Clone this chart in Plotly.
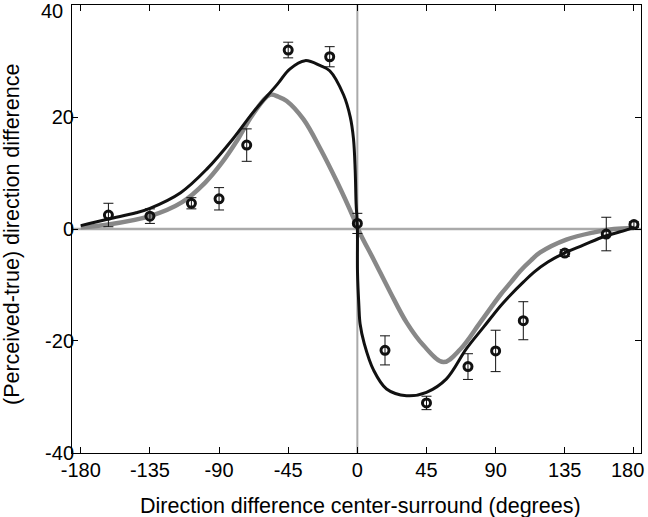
import plotly.graph_objects as go

# measured points (direction difference vs perceived-true difference)
pt_x = [-162, -135, -108, -90, -72, -45, -18, 0, 18, 45, 72, 90, 108, 135, 162, 180]
pt_y = [2.5, 2.3, 4.6, 5.4, 15.0, 32.0, 30.8, 1.0, -21.7, -31.1, -24.6, -21.8, -16.4, -4.3, -0.9, 0.8]
pt_err = [2.1, 1.3, 1.0, 2.0, 2.9, 1.4, 1.8, 1.8, 2.6, 1.2, 2.3, 3.7, 3.4, 0.6, 3.0, 0.5]

# black model curve
black_x = [-180, -162, -144, -135, -115, -98, -81, -68, -52, -44, -34, -24, -18, -9,
           -4.6, -2.5, -1.4, -0.8, 0, 0.1, 1.0, 1.8, 4.5, 10.5, 19, 32, 45, 58, 71,
           82, 93, 100, 108, 115, 124, 134, 147, 161, 171, 180]
black_y = [0.6, 1.8, 2.9, 3.7, 6.5, 10.7, 16.1, 20.8, 25.9, 28.6, 30.1, 29.2, 28.3, 24.0,
           20.0, 16.1, 10.5, 4.5, 0.5, -7.7, -13.7, -17.0, -20.5, -25.2, -28.6, -29.8, -29.2,
           -26.8, -21.4, -17.6, -13.8, -11.7, -9.5, -7.7, -5.9, -4.4, -2.9, -1.3, -0.5, 0.3]

# gray model curve
gray_x = [-180, -162, -135, -114, -99, -88, -79, -68, -57, -51, -46, -35, -24, -13, -2.5,
          1.8, 10.5, 21.4, 32, 43, 56, 67, 80, 93, 100, 106, 113, 119, 136, 154, 167, 180]
gray_y = [0.3, 0.8, 2.3, 4.8, 8.3, 11.9, 15.5, 20.5, 24.0, 23.6, 22.9, 19.6, 14.3, 8.3, 2.0,
          -0.8, -5.4, -11.3, -16.7, -20.8, -23.8, -21.5, -16.7, -11.8, -9.5, -7.5, -5.6,
          -4.2, -1.9, -0.6, 0.0, 0.2]

x_ticks = [-180, -135, -90, -45, 0, 45, 90, 135, 180]
x_labels = ["-180", "-135", "-90", "-45", "0", "45", "90", "135", ""]
last_x_label = "180"  # drawn separately so it stays inside the page
y_ticks = [-40, -20, 0, 20, 40]
y_labels = ["-40", "-20", "0", "20", ""]
top_y_label = "40"

fig = go.Figure()

fig.add_hline(y=0, line_color="#aaaaaa", line_width=2.5, layer="below")
fig.add_vline(x=0, line_color="#aaaaaa", line_width=2, layer="below")

fig.add_trace(go.Scatter(x=gray_x, y=gray_y, mode="lines", line_shape="spline",
                         line=dict(color="#888888", width=4.5), name="gray"))
fig.add_trace(go.Scatter(x=black_x, y=black_y, mode="lines", line_shape="spline",
                         line=dict(color="#111111", width=3), name="black"))
fig.add_trace(go.Scatter(
    x=pt_x, y=pt_y, mode="markers",
    marker=dict(symbol="circle-open", size=8, color="#111111", line=dict(width=3)),
    error_y=dict(type="data", array=pt_err, color="#111111", thickness=1, width=5),
    name="data"))

font_name = "Liberation Sans, Arial, sans-serif"
tick_font = dict(family=font_name, size=20, color="black")
title_font = dict(family=font_name, size=21.5, color="black")
common = dict(ticks="inside", ticklen=6, tickcolor="black", showline=True,
              linecolor="black", linewidth=1, mirror="ticks", showgrid=False,
              zeroline=False, tickfont=tick_font, automargin=False,
              ticklabeloverflow="allow")
fig.update_xaxes(range=[-185.7, 184.6], tickvals=x_ticks, ticktext=x_labels,
                 ticklabelstandoff=-1, **common)
fig.update_yaxes(range=[-40.05, 40.05], tickvals=y_ticks, ticktext=y_labels,
                 ticklabelstandoff=-7, **common)

# edge labels kept inside the page
fig.add_annotation(text=last_x_label, x=x_ticks[-1], xref="x", yref="paper", y=0,
                   xanchor="center", yanchor="middle", xshift=-6, yshift=-17,
                   showarrow=False, font=tick_font)
fig.add_annotation(text=top_y_label, xref="paper", x=0, yref="y", y=y_ticks[-1],
                   xanchor="right", yanchor="middle", xshift=-7, yshift=-6,
                   showarrow=False, font=tick_font)

# axis titles
fig.add_annotation(text="Direction difference center-surround (degrees)",
                   xref="paper", yref="paper", x=0.5, y=0, xanchor="center",
                   yanchor="middle", xshift=4, yshift=-53, showarrow=False,
                   font=title_font)
fig.add_annotation(text="(Perceived-true) direction difference",
                   xref="paper", yref="paper", x=0, y=0.5, xanchor="center",
                   yanchor="middle", xshift=-60, yshift=-6, textangle=-90,
                   showarrow=False, font=title_font)

fig.update_layout(width=648, height=517, showlegend=False,
                  margin=dict(l=72, r=7, t=5, b=64),
                  paper_bgcolor="white", plot_bgcolor="white")

fig.write_html("out.html", config={"displayModeBar": False},
               post_script="document.body.style.margin='0';")
